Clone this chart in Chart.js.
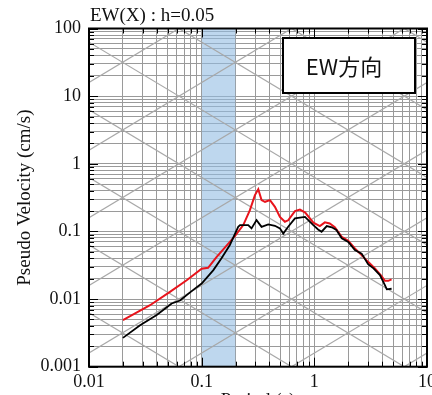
<!DOCTYPE html>
<html>
<head>
<meta charset="utf-8">
<script src="https://cdn.jsdelivr.net/npm/chart.js@4.4.0/dist/chart.umd.min.js"></script>
<style>
  body { margin: 0; background: #fff; }
</style>
</head>
<body>
<canvas id="myChart" width="432" height="395"></canvas>
<script>
// period (s) / pseudo velocity (cm/s)
var redPeriod = [0.02, 0.0348, 0.0523, 0.0736, 0.1, 0.114, 0.136, 0.178, 0.197, 0.234, 0.268, 0.297, 0.318,
    0.34, 0.365, 0.404, 0.447, 0.495, 0.548, 0.586, 0.673, 0.745, 0.83, 0.98, 1.12, 1.24, 1.37, 1.52,
    1.75, 2.0, 2.29, 2.63, 3.0, 3.45, 3.95, 4.23, 4.53, 4.85];
var redVel = [0.0049, 0.0081, 0.0128, 0.019, 0.028, 0.029, 0.042, 0.070, 0.085, 0.124, 0.206, 0.344, 0.42,
    0.29, 0.274, 0.29, 0.231, 0.164, 0.139, 0.146, 0.20, 0.21, 0.19, 0.135, 0.12, 0.136, 0.131, 0.115,
    0.083, 0.073, 0.056, 0.0446, 0.0355, 0.0284, 0.0218, 0.0186, 0.0186, 0.0195];

var blackPeriod = [0.02, 0.0284, 0.0399, 0.0542, 0.0642, 0.0815, 0.1, 0.127, 0.150, 0.178, 0.211, 0.219,
    0.259, 0.277, 0.307, 0.34, 0.39, 0.447, 0.495, 0.53, 0.586, 0.673, 0.745, 0.826, 0.98, 1.08, 1.16,
    1.29, 1.43, 1.57, 1.75, 2.0, 2.29, 2.63, 3.0, 3.35, 3.82, 4.23, 4.4, 4.85];
var blackVel = [0.00267, 0.0041, 0.0058, 0.0086, 0.0095, 0.0131, 0.017, 0.0268, 0.040, 0.063, 0.117, 0.124,
    0.124, 0.111, 0.147, 0.117, 0.127, 0.121, 0.111, 0.093, 0.117, 0.156, 0.160, 0.164, 0.124, 0.107, 0.099,
    0.12, 0.115, 0.105, 0.079, 0.070, 0.053, 0.047, 0.0328, 0.0284, 0.0226, 0.0161, 0.0139, 0.0142];

// shaded period band (s)
var bandPeriod = [0.1, 0.2];

// tripartite guide lines: acceleration (cm/s2) and displacement (cm)
var accLevels = [0.001, 0.01, 0.1, 1, 10, 100, 1000, 10000];
var dispLevels = [1e-5, 1e-4, 0.001, 0.01, 0.1, 1, 10, 100];

var xDecades = [0.01, 0.1, 1, 10];
var yDecades = [0.001, 0.01, 0.1, 1, 10, 100];

var serif = '"Liberation Serif", "Times New Roman", Times, serif';

function logTicks(decades) {
    var out = [];
    for (var i = 0; i < decades.length - 1; i++) {
        for (var m = 1; m < 10; m++) out.push(parseFloat((decades[i] * m).toPrecision(6)));
    }
    out.push(decades[decades.length - 1]);
    return out;
}
function isDecade(v) {
    var l = Math.log10(v);
    return Math.abs(l - Math.round(l)) < 1e-6;
}
function pts(xs, ys) {
    return xs.map(function (x, i) { return {x: x, y: ys[i]}; });
}

var xMin = xDecades[0], xMax = xDecades[xDecades.length - 1];
var yMin = yDecades[0], yMax = yDecades[yDecades.length - 1];
var twoPi = 2 * Math.PI;

var datasets = [];
datasets.push({
    data: bandPeriod.map(function (x) { return {x: x, y: yMax}; }),
    fill: 'start', backgroundColor: 'rgba(147,188,227,0.6)', borderWidth: 0, pointRadius: 0, order: 5
});
accLevels.forEach(function (a) {
    datasets.push({
        data: [{x: xMin, y: a * xMin / twoPi}, {x: xMax, y: a * xMax / twoPi}],
        borderColor: '#a8a8a8', borderWidth: 1.2, pointRadius: 0, order: 4
    });
});
dispLevels.forEach(function (d) {
    datasets.push({
        data: [{x: xMin, y: twoPi * d / xMin}, {x: xMax, y: twoPi * d / xMax}],
        borderColor: '#a8a8a8', borderWidth: 1.2, pointRadius: 0, order: 4
    });
});
datasets.push({data: pts(redPeriod, redVel), borderColor: '#e8141c', borderWidth: 2, pointRadius: 0, order: 1});
datasets.push({data: pts(blackPeriod, blackVel), borderColor: '#000', borderWidth: 1.8, pointRadius: 0, order: 0});

var frame = {
    id: 'frame',
    afterDatasetsDraw: function (chart) {
        var ctx = chart.ctx, a = chart.chartArea;
        var sx = chart.scales.x, sy = chart.scales.y;
        ctx.save();
        ctx.strokeStyle = '#000';
        ctx.lineWidth = 1;
        ctx.beginPath();
        sx.ticks.forEach(function (t) {
            var p = Math.round(sx.getPixelForValue(t.value)) + 0.5;
            var len = isDecade(t.value) ? 9 : 5;
            ctx.moveTo(p, a.bottom); ctx.lineTo(p, a.bottom - len);
            ctx.moveTo(p, a.top); ctx.lineTo(p, a.top + len);
        });
        sy.ticks.forEach(function (t) {
            var p = Math.round(sy.getPixelForValue(t.value)) + 0.5;
            var len = isDecade(t.value) ? 9 : 5;
            ctx.moveTo(a.left, p); ctx.lineTo(a.left + len, p);
            ctx.moveTo(a.right, p); ctx.lineTo(a.right - len, p);
        });
        ctx.stroke();
        ctx.lineWidth = 2;
        ctx.strokeRect(a.left, a.top, a.right - a.left, a.bottom - a.top);

        // legend box
        var bx = a.right - 144, by = a.top + 9.5, bw = 132, bh = 55;
        ctx.fillStyle = '#fff';
        ctx.fillRect(bx, by, bw, bh);
        ctx.strokeRect(bx, by, bw, bh);
        ctx.fillStyle = '#111';
        ctx.font = '22px "Noto Sans CJK JP"';
        ctx.textAlign = 'center';
        ctx.textBaseline = 'middle';
        ctx.fillText('EW方向', bx + bw / 2 - 5, by + bh / 2 + 1);

        // titles
        ctx.font = '19px ' + serif;
        ctx.textAlign = 'left';
        ctx.textBaseline = 'alphabetic';
        ctx.fillText('EW(X) : h=0.05', 90, 20.5);
        ctx.textAlign = 'center';
        ctx.textBaseline = 'middle';
        ctx.fillText('Period (s)', (a.left + a.right) / 2, 401);
        ctx.restore();
    }
};

Chart.defaults.font.family = serif;
Chart.defaults.color = '#111';

var ctx = document.getElementById('myChart');
var myChart = new Chart(ctx, {
    type: 'line',
    data: {datasets: datasets},
    plugins: [frame],
    options: {
        responsive: false,
        animation: false,
        layout: {padding: {top: 28.5, right: 5, left: 0, bottom: 0}},
        plugins: {legend: {display: false}, tooltip: {enabled: false}},
        scales: {
            x: {
                type: 'logarithmic', min: xMin, max: xMax,
                afterBuildTicks: function (s) { s.ticks = logTicks(xDecades).map(function (v) { return {value: v}; }); },
                afterFit: function (s) { s.height = 28.3; s.paddingLeft = 0; s.paddingRight = 0; },
                grid: {color: '#9a9a9a', lineWidth: 1, drawTicks: false},
                border: {display: false},
                ticks: {
                    autoSkip: false, maxRotation: 0, padding: 5, font: {size: 18},
                    callback: function (v) { return isDecade(v) ? String(v) : ''; }
                }
            },
            y: {
                type: 'logarithmic', min: yMin, max: yMax,
                afterBuildTicks: function (s) { s.ticks = logTicks(yDecades).map(function (v) { return {value: v}; }); },
                afterFit: function (s) { s.width = 89; s.paddingTop = 0; s.paddingBottom = 0; },
                grid: {color: '#9a9a9a', lineWidth: 1, drawTicks: false},
                border: {display: false},
                title: {display: true, text: 'Pseudo Velocity (cm/s)', font: {size: 19}, padding: {top: 14, bottom: 0}},
                ticks: {
                    autoSkip: false, padding: 8, font: {size: 18},
                    callback: function (v) { return isDecade(v) ? String(v) : ''; }
                }
            }
        }
    }
});

window.chart = myChart;
</script>
</body>
</html>
